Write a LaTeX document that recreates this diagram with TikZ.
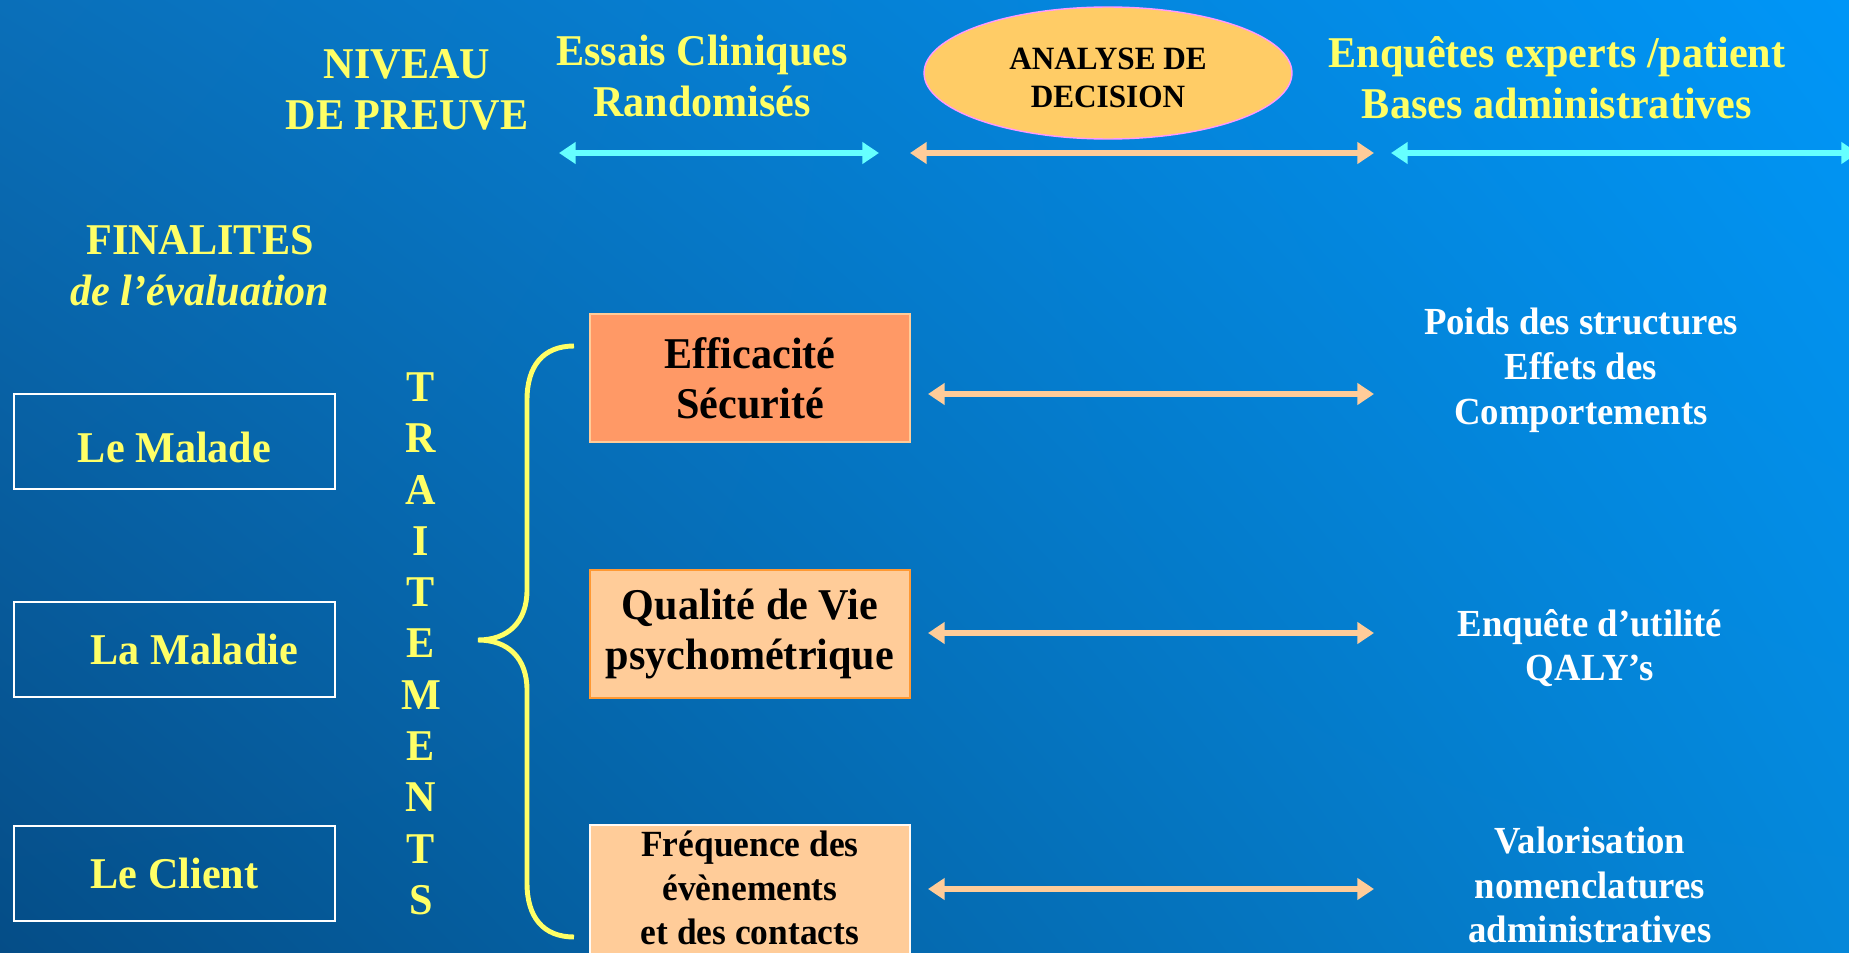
\documentclass[tikz,border=0pt]{standalone}
\usepackage{fontspec}
\setmainfont[FakeStretch=0.96]{Liberation Serif}
\usepackage{xcolor}
\usepackage{tikz}
\usetikzlibrary{shapes,shapes.geometric,shadings,arrows.meta,positioning,calc}

\definecolor{bgtl}{HTML}{0A6FB9}
\definecolor{bgtr}{HTML}{0096F7}
\definecolor{bgbl}{HTML}{054D87}
\definecolor{bgbr}{HTML}{0587D9}
\definecolor{txtyellow}{HTML}{FFFF66}
\definecolor{arrcyan}{HTML}{66FFFF}
\definecolor{arrpeach}{HTML}{FFCC99}
\definecolor{ellfill}{HTML}{FFCC66}
\definecolor{ellline}{HTML}{FF99FF}
\definecolor{efffill}{HTML}{FF9966}
\definecolor{qualline}{HTML}{FF9933}

\begin{document}
\begin{tikzpicture}[x=0.02cm, y=-0.02cm,
      head/.style={align=center, text=txtyellow, inner sep=0pt,
                   font=\fontsize{25}{29}\selectfont\bfseries},
      leftbox/.style={rectangle, draw=white, line width=1.4pt, text=txtyellow,
                      minimum width=6.42cm, minimum height=1.9cm, inner sep=0pt,
                      font=\fontsize{25}{29}\selectfont\bfseries},
      midbox/.style={rectangle, line width=1.2pt, text=black, align=center,
                     minimum width=6.4cm, minimum height=2.56cm, inner sep=0pt,
                     font=\fontsize{25}{28.5}\selectfont\bfseries},
      rtext/.style={align=center, text=white, inner sep=0pt,
                    font=\fontsize{21.8}{25.5}\selectfont\bfseries},
      letter/.style={text=txtyellow, inner sep=0pt,
                     font=\fontsize{25}{29}\selectfont\bfseries},
      arr/.style={{Triangle[width=12pt,length=9.5pt]}-{Triangle[width=12pt,length=9.5pt]},
                  line width=3.8pt},
    ]

    % Background
    \useasboundingbox (0,0) rectangle (1849,953);
    \shade[upper left=bgtl, upper right=bgtr, lower left=bgbl, lower right=bgbr]
      (0,0) rectangle (1849,953);

    % Header
    \node[head] (niveau) at (407,90) {NIVEAU\\DE PREUVE};
    \node[head] (essais) at (702,76) {Essais Cliniques\\Randomisés};
    \node[ellipse, draw=ellline, fill=ellfill, line width=0.8pt, inner sep=0pt,
          minimum width=7.36cm, minimum height=2.64cm, align=center,
          font=\fontsize{18.5}{22}\selectfont\bfseries] (decision) at (1108,73)
      {\rule{0pt}{18pt}ANALYSE DE\\DECISION};
    \node[head] (enquetes) at (1557,78) {Enquêtes experts /patient\\Bases administratives};

    % Header arrows
    \coordinate (c1l) at (559,153);  \coordinate (c1r) at (879,153);
    \coordinate (p0l) at (910,153);  \coordinate (p0r) at (1374,153);
    \coordinate (c2l) at (1391,153); \coordinate (c2r) at (1858,153);
    \draw[arr, arrcyan] (c1l) -- (c1r);
    \draw[arr, arrpeach] (p0l) -- (p0r);
    \draw[arr, arrcyan] (c2l) -- (c2r);

    % Finalites
    \node[head] (finalites) at (200,266) {FINALITES\\\textit{de l’évaluation}};

    % Left boxes
    \node[leftbox] (malade) at (174.5,441.5) {\rule{0pt}{24pt}Le Malade};
    \node[leftbox] (maladie) at (174.5,649.5) {\hspace*{0.9em}La Maladie};
    \node[leftbox] (client) at (174.5,873.5) {Le Client};

    % Vertical word
    \foreach \l [count=\i from 0] in {T,R,A,I,T,E,M,E,N,T,S}
      \node[letter] (t\i) at (421,{387+51.3*\i}) {\l};

    % Brace
    \coordinate (bracetop) at (574,346);
    \coordinate (bracetip) at (478,640);
    \coordinate (bracebot) at (574,937);
    \draw[txtyellow, line width=2.8pt]
      (bracetop) .. controls (543,346) and (527,366) .. (527,400) -- (527,590)
      .. controls (527,622) and (508,640) .. (bracetip)
      .. controls (508,640) and (527,658) .. (527,690) -- (527,883)
      .. controls (527,917) and (543,937) .. (bracebot);

    % Middle boxes
    \node[midbox, fill=efffill, draw=arrpeach] (eff) at (750,378)
      {Efficacité\\Sécurité};
    \node[midbox, fill=arrpeach, draw=qualline] (qual) at (750,634)
      {Qualité de Vie\\psychométrique};
    \node[midbox, fill=arrpeach, draw=white!90!arrpeach, minimum height=2.8cm,
          font=\fontsize{21}{25}\selectfont\bfseries] (freq) at (750,895)
      {Fréquence des\\évènements\\et des contacts\rule[-8pt]{0pt}{8pt}};

    % Middle arrows
    \coordinate (a1l) at (928,394); \coordinate (a1r) at (1374,394);
    \coordinate (a2l) at (928,633); \coordinate (a2r) at (1374,633);
    \coordinate (a3l) at (928,889); \coordinate (a3r) at (1374,889);
    \draw[arr, arrpeach] (a1l) -- (a1r);
    \draw[arr, arrpeach] (a2l) -- (a2r);
    \draw[arr, arrpeach] (a3l) -- (a3r);

    % Right texts
    \node[rtext] (poids) at (1581,370) {Poids des structures\\Effets des\\Comportements};
    \node[rtext] (utilite) at (1590,648) {Enquête d’utilité\\QALY’s};
    \node[rtext] (valor) at (1590,885) {Valorisation\\nomenclatures\\administratives};

\end{tikzpicture}
\end{document}
